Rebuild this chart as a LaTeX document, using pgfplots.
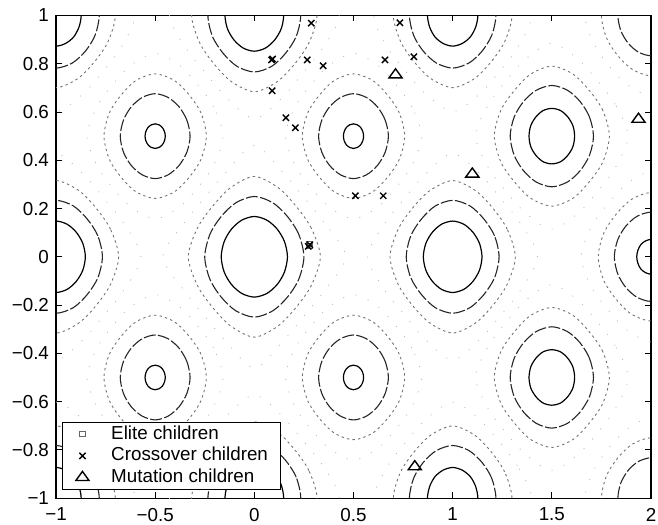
\documentclass[border=0pt]{standalone}
\usepackage{fontspec}
\setmainfont{Liberation Sans}
\usepackage{pgfplots}
\usepackage{pgfplotstable}
\pgfplotsset{compat=1.18}

% contour ring shapes around a centre: (r0, p, q, d) -> 16 points
\newcommand\mkshape[5]{%
\pgfplotstableread[row sep=\\]{u v\\ #2 0\\ #3 #4\\ #5 #5\\ #4 #3\\ 0 #2\\ -#4 #3\\ -#5 #5\\ -#3 #4\\ -#2 0\\ -#3 -#4\\ -#5 -#5\\ -#4 -#3\\ 0 -#2\\ #4 -#3\\ #5 -#5\\ #3 -#4\\}#1}
\mkshape{\ShA}{0.051}{0.047}{0.019}{0.036}
\mkshape{\ShB}{0.072}{0.066}{0.027}{0.051}
\mkshape{\ShC}{0.115}{0.106}{0.044}{0.080}
\mkshape{\ShD}{0.127}{0.116}{0.048}{0.089}
\mkshape{\ShE}{0.148}{0.135}{0.056}{0.102}
\mkshape{\ShF}{0.167}{0.152}{0.063}{0.115}
\mkshape{\ShG}{0.176}{0.160}{0.066}{0.121}
\mkshape{\ShH}{0.185}{0.168}{0.070}{0.127}
\mkshape{\ShI}{0.210}{0.190}{0.079}{0.143}
\mkshape{\ShJ}{0.218}{0.197}{0.082}{0.148}
\mkshape{\ShK}{0.234}{0.211}{0.087}{0.157}
\mkshape{\ShL}{0.250}{0.224}{0.093}{0.167}
\mkshape{\ShM}{0.258}{0.231}{0.096}{0.171}
\mkshape{\ShN}{0.266}{0.238}{0.098}{0.176}
\mkshape{\ShO}{0.290}{0.257}{0.107}{0.189}
\mkshape{\ShP}{0.299}{0.262}{0.109}{0.193}
\mkshape{\ShQ}{0.316}{0.275}{0.114}{0.202}
\mkshape{\ShR}{0.333}{0.287}{0.119}{0.210}
\mkshape{\ShS}{0.343}{0.294}{0.122}{0.214}
\mkshape{\ShT}{0.352}{0.301}{0.125}{0.218}
\mkshape{\ShU}{0.385}{0.319}{0.132}{0.230}
\mkshape{\ShV}{0.398}{0.326}{0.135}{0.234}
\mkshape{\ShW}{0.428}{0.340}{0.141}{0.242}
\mkshape{\ShX}{0.461}{0.349}{0.145}{0.248}

\newcommand\ring[4]{\addplot[#1, smooth cycle, forget plot] table[x expr=\thisrow{u}+(#3), y expr=\thisrow{v}+(#4)]{#2};}

\tikzset{
 c1/.style={black, line width=0.6pt},
 c2/.style={black!85, line width=0.55pt, dash pattern=on 6pt off 1.2pt},
 c3/.style={black!55, line width=0.45pt, dash pattern=on 1.2pt off 1.6pt},
 c4/.style={black!28, line width=0.4pt, dash pattern=on 0.5pt off 6pt},
}
\pgfplotsset{leg/.style={legend image code/.code={\path[draw=none] (-5.5pt,0pt) -- (12.4pt,0pt); \draw[##1] plot coordinates {(0pt,0pt)};}}}

\begin{document}
\begin{tikzpicture}
\begin{axis}[
 scale only axis, width=297.5pt, height=241.3pt,
 xmin=-1, xmax=2, ymin=-1, ymax=1,
 xtick={-1,-0.5,0,0.5,1,1.5,2},
 xticklabels={−1,−0.5,0,0.5,1,1.5,2},
 ytick={-1,-0.8,-0.6,-0.4,-0.2,0,0.2,0.4,0.6,0.8,1},
 yticklabels={−1,−0.8,−0.6,−0.4,−0.2,0,0.2,0.4,0.6,0.8,1},
 tick align=inside, major tick length=3pt,
 tick style={black, line width=0.5pt},
 axis line style={line width=0.6pt},
 ticklabel style={font=\fontsize{9.4}{11}\selectfont},
 xticklabel style={yshift=-1.4pt},
 legend style={at={(0.01,0.017)}, anchor=south west, draw=black, line width=0.5pt, fill=white,
   font=\fontsize{9.4}{11}\selectfont, inner xsep=4.5pt, inner ysep=1.35pt, row sep=1.6pt,
   nodes={inner ysep=0pt, text height=7pt, text depth=2.2pt}, cells={anchor=west}},
]
% minima
\ring{c1}{\ShF}{0}{0}\ring{c2}{\ShL}{0}{0}\ring{c3}{\ShR}{0}{0}\ring{c4}{\ShX}{0}{0}
\ring{c1}{\ShE}{1}{0}\ring{c2}{\ShK}{1}{0}\ring{c3}{\ShQ}{1}{0}\ring{c4}{\ShW}{1}{0}
\ring{c1}{\ShE}{-1}{0}\ring{c2}{\ShK}{-1}{0}\ring{c3}{\ShQ}{-1}{0}\ring{c4}{\ShW}{-1}{0}
\ring{c1}{\ShE}{0}{1}\ring{c2}{\ShK}{0}{1}\ring{c3}{\ShQ}{0}{1}\ring{c4}{\ShW}{0}{1}
\ring{c1}{\ShE}{0}{-1}\ring{c2}{\ShK}{0}{-1}\ring{c3}{\ShQ}{0}{-1}\ring{c4}{\ShW}{0}{-1}
\ring{c1}{\ShD}{-1}{1}\ring{c2}{\ShJ}{-1}{1}\ring{c3}{\ShP}{-1}{1}\ring{c4}{\ShV}{-1}{1}
\ring{c1}{\ShD}{-1}{-1}\ring{c2}{\ShJ}{-1}{-1}\ring{c3}{\ShP}{-1}{-1}\ring{c4}{\ShV}{-1}{-1}
\ring{c1}{\ShD}{1}{1}\ring{c2}{\ShJ}{1}{1}\ring{c3}{\ShP}{1}{1}\ring{c4}{\ShV}{1}{1}
\ring{c1}{\ShD}{1}{-1}\ring{c2}{\ShJ}{1}{-1}\ring{c3}{\ShP}{1}{-1}\ring{c4}{\ShV}{1}{-1}
\ring{c1}{\ShB}{2}{0}\ring{c2}{\ShH}{2}{0}\ring{c3}{\ShN}{2}{0}\ring{c4}{\ShT}{2}{0}
\ring{c2}{\ShF}{2}{1}\ring{c3}{\ShL}{2}{1}\ring{c4}{\ShR}{2}{1}
\ring{c2}{\ShF}{2}{-1}\ring{c3}{\ShL}{2}{-1}\ring{c4}{\ShR}{2}{-1}
% maxima
\ring{c1}{\ShA}{-0.5}{0.5}\ring{c2}{\ShG}{-0.5}{0.5}\ring{c3}{\ShM}{-0.5}{0.5}\ring{c4}{\ShS}{-0.5}{0.5}
\ring{c1}{\ShA}{-0.5}{-0.5}\ring{c2}{\ShG}{-0.5}{-0.5}\ring{c3}{\ShM}{-0.5}{-0.5}\ring{c4}{\ShS}{-0.5}{-0.5}
\ring{c1}{\ShA}{0.5}{0.5}\ring{c2}{\ShG}{0.5}{0.5}\ring{c3}{\ShM}{0.5}{0.5}\ring{c4}{\ShS}{0.5}{0.5}
\ring{c1}{\ShA}{0.5}{-0.5}\ring{c2}{\ShG}{0.5}{-0.5}\ring{c3}{\ShM}{0.5}{-0.5}\ring{c4}{\ShS}{0.5}{-0.5}
\ring{c1}{\ShC}{1.5}{0.5}\ring{c2}{\ShI}{1.5}{0.5}\ring{c3}{\ShO}{1.5}{0.5}\ring{c4}{\ShU}{1.5}{0.5}
\ring{c1}{\ShC}{1.5}{-0.5}\ring{c2}{\ShI}{1.5}{-0.5}\ring{c3}{\ShO}{1.5}{-0.5}\ring{c4}{\ShU}{1.5}{-0.5}

% population
\addplot[only marks, mark=square, mark size=1.3pt, draw=black!60, line width=0.5pt, leg]
 coordinates {(0.276,0.052) (0.281,0.046)};
\addplot[only marks, mark=x, mark size=2.2pt, draw=black, line width=0.7pt, leg]
 coordinates {(0.287,0.968) (0.734,0.970) (0.087,0.816) (0.092,0.820) (0.267,0.816)
 (0.347,0.792) (0.659,0.816) (0.804,0.829) (0.090,0.688) (0.159,0.576) (0.207,0.535)
 (0.509,0.253) (0.650,0.253) (0.280,0.050) (0.272,0.043)};
\addplot[only marks, mark=triangle, mark size=3.8pt, mark options={yscale=0.8}, draw=black, line width=0.7pt, leg]
 coordinates {(0.712,0.754) (1.099,0.343) (0.809,-0.870) (1.937,0.570)};
\legend{Elite children, Crossover children, Mutation children}
\end{axis}
\pgfresetboundingbox
\path ([shift={(-28pt,-13.05pt)}]current axis.south west) rectangle ([shift={(3.5pt,7.75pt)}]current axis.north east);
\end{tikzpicture}
\end{document}
